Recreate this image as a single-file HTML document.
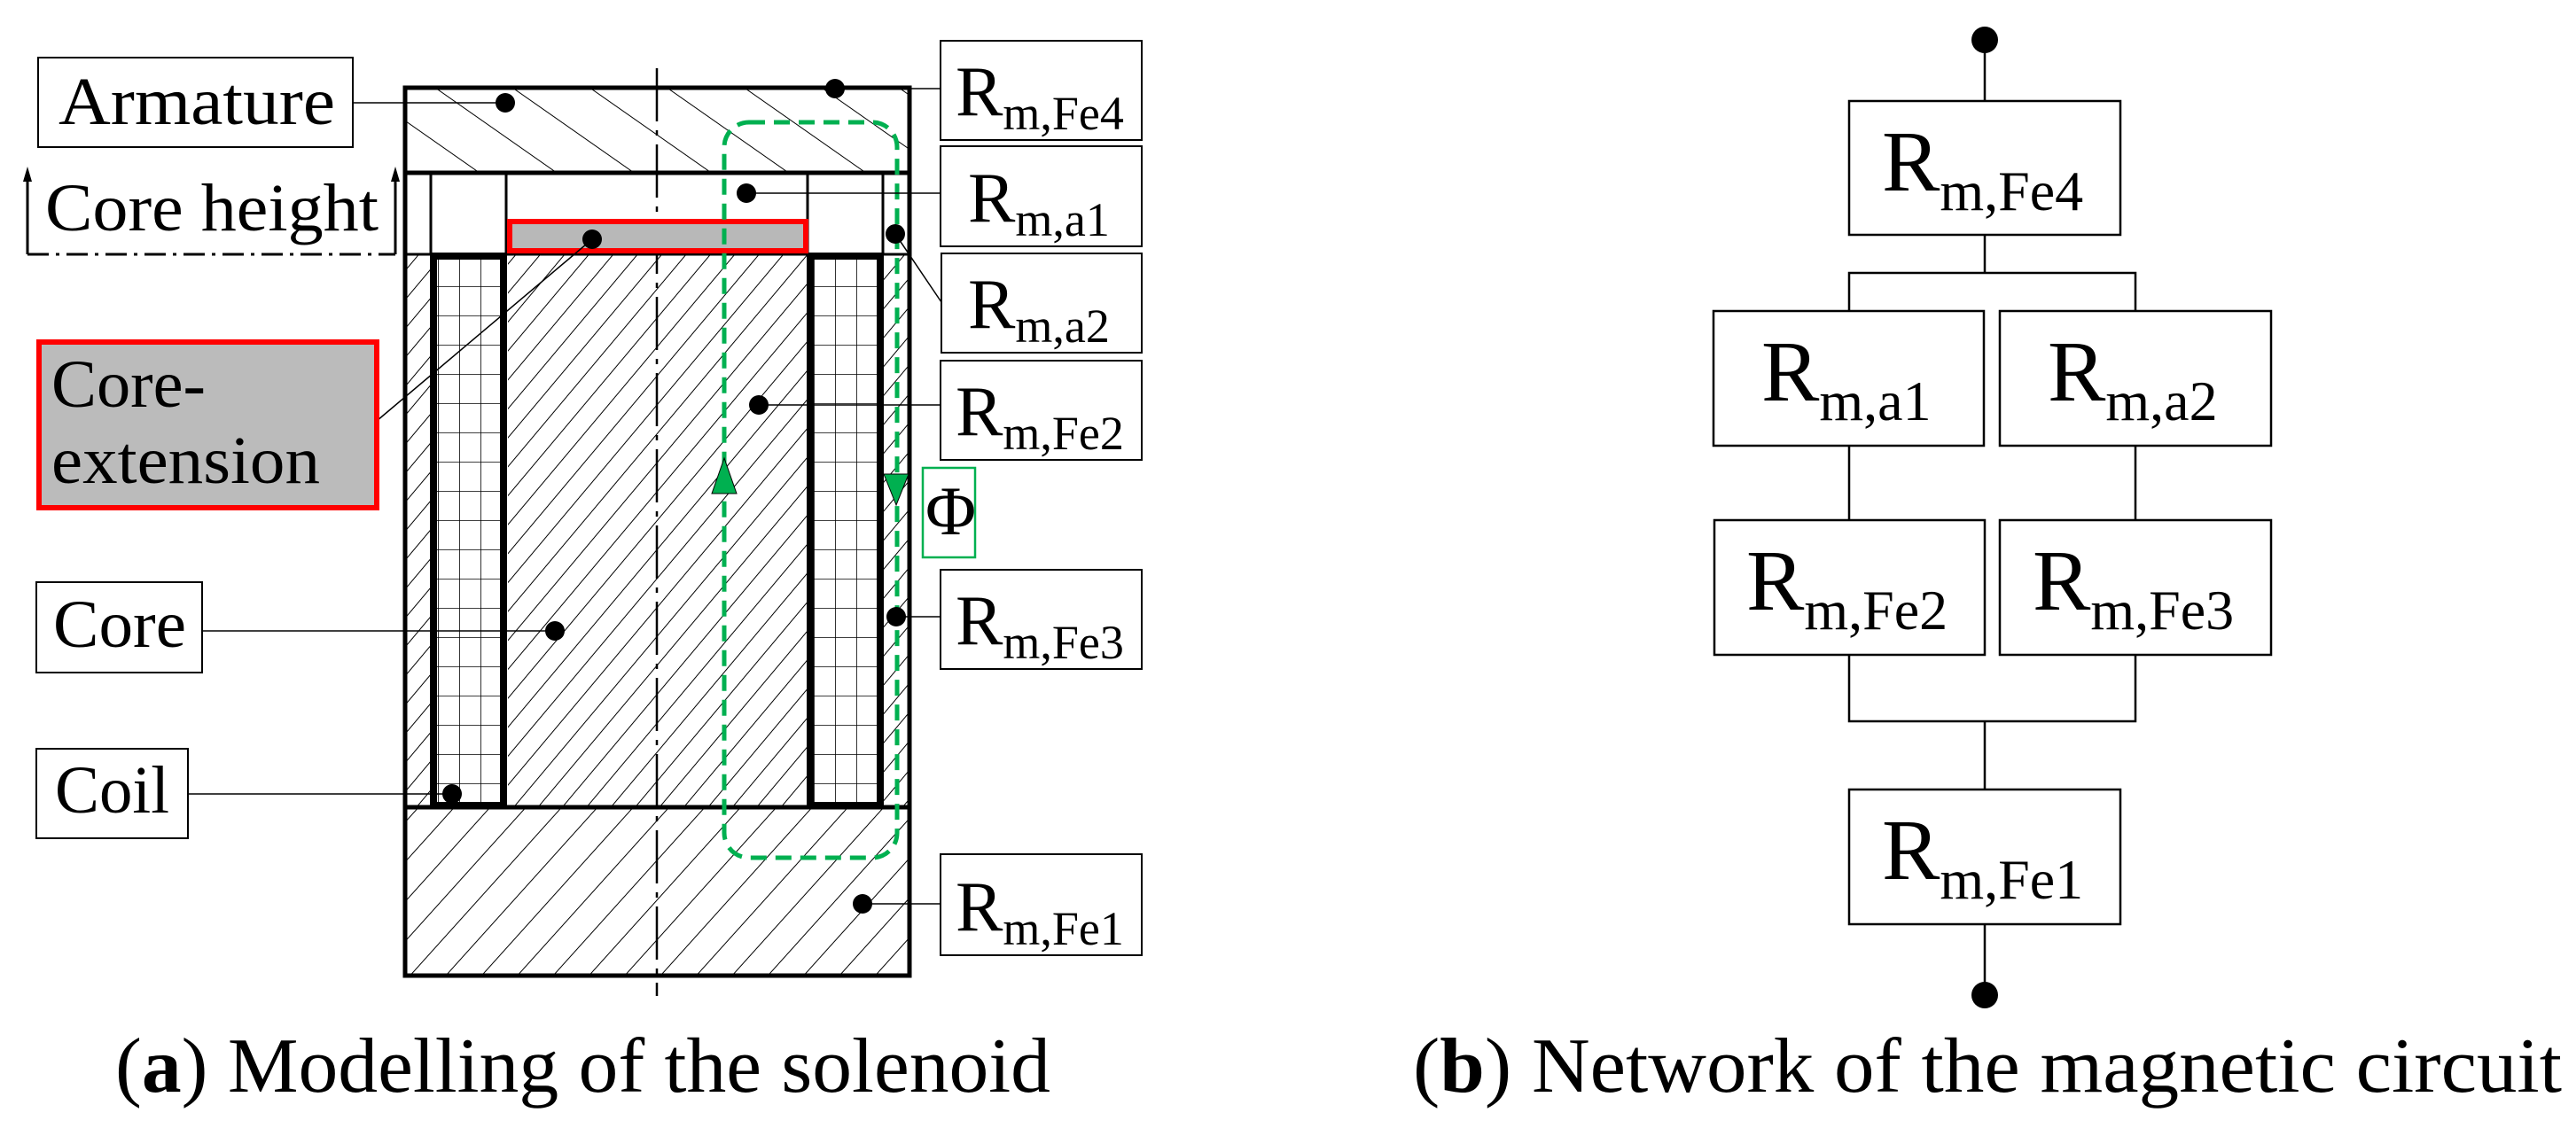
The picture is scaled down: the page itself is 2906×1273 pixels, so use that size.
<!DOCTYPE html>
<html><head><meta charset="utf-8"><style>
html,body{margin:0;padding:0;background:#fff;}
svg{display:block;}
text{font-family:"Liberation Serif",serif;fill:#000;}
</style></head><body>
<svg width="2906" height="1273" viewBox="0 0 2906 1273" xmlns="http://www.w3.org/2000/svg" font-family="Liberation Serif, serif">
<defs>
<pattern id="hArm" width="50" height="50" patternUnits="userSpaceOnUse" patternTransform="rotate(-55)">
<line x1="0" y1="0" x2="0" y2="50" stroke="#000" stroke-width="2"/></pattern>
<pattern id="hCore" width="21" height="21" patternUnits="userSpaceOnUse" patternTransform="rotate(40)">
<line x1="0" y1="0" x2="0" y2="21" stroke="#000" stroke-width="2"/></pattern>
<pattern id="hBot" width="30" height="30" patternUnits="userSpaceOnUse" patternTransform="rotate(42)">
<line x1="0" y1="0" x2="0" y2="30" stroke="#000" stroke-width="2"/></pattern>
<pattern id="grid" width="24" height="33" patternUnits="userSpaceOnUse" x="494" y="290">
<path d="M0 0V33M0 0H24" stroke="#000" stroke-width="1.6" fill="none"/></pattern>
<pattern id="grid2" width="24" height="33" patternUnits="userSpaceOnUse" x="918" y="290">
<path d="M0 0V33M0 0H24" stroke="#000" stroke-width="1.6" fill="none"/></pattern>
</defs>

<rect x="457" y="99" width="569" height="96" fill="url(#hArm)"/>
<rect x="573" y="287" width="338" height="624" fill="url(#hCore)"/>
<rect x="457" y="287" width="29" height="624" fill="url(#hCore)"/>
<rect x="996" y="287" width="30" height="624" fill="url(#hCore)"/>
<rect x="457" y="911" width="569" height="190" fill="url(#hBot)"/>
<rect x="492" y="290" width="72" height="618" fill="#fff"/>
<rect x="492" y="290" width="72" height="618" fill="url(#grid)"/>
<rect x="917" y="290" width="73" height="618" fill="#fff"/>
<rect x="917" y="290" width="73" height="618" fill="url(#grid2)"/>
<g stroke="#000" fill="none">
<rect x="457" y="99" width="569" height="1002" stroke-width="5"/>
<line x1="457" y1="195" x2="1026" y2="195" stroke-width="5"/>
<line x1="457" y1="287" x2="1026" y2="287" stroke-width="3"/>
<line x1="457" y1="911" x2="1026" y2="911" stroke-width="5"/>
<line x1="486" y1="195" x2="486" y2="287" stroke-width="3"/>
<line x1="571" y1="195" x2="571" y2="287" stroke-width="3"/>
<line x1="911" y1="195" x2="911" y2="287" stroke-width="3"/>
<line x1="996" y1="195" x2="996" y2="287" stroke-width="3"/>
<rect x="489" y="289" width="79" height="620" stroke-width="8"/>
<rect x="914" y="289" width="79" height="620" stroke-width="8"/>
<line x1="741" y1="77" x2="741" y2="1124" stroke-width="2.5" stroke-dasharray="60,10,6,10"/>
</g>
<rect x="575" y="250" width="334" height="33" fill="#b8b8b8" stroke="#ff0000" stroke-width="6"/>
<rect x="817" y="138" width="195" height="830" rx="28" fill="none" stroke="#00b050" stroke-width="5" stroke-dasharray="18,10"/>
<polygon points="817,517 803,557 831,557" fill="#00b050" stroke="#000" stroke-width="1"/>
<polygon points="1011,570 997,535 1025,535" fill="#00b050" stroke="#000" stroke-width="1"/>
<rect x="1041" y="528" width="59" height="101" fill="none" stroke="#00b050" stroke-width="2.5"/>
<text x="1044" y="603" font-size="78">Φ</text>

<g stroke="#000" stroke-width="1.5">
<line x1="398" y1="116" x2="570" y2="116"/>
<line x1="942" y1="100" x2="1061" y2="100"/>
<line x1="842" y1="218" x2="1061" y2="218"/>
<line x1="1010" y1="264" x2="1062" y2="341"/>
<line x1="668" y1="270" x2="425" y2="475"/>
<line x1="856" y1="457" x2="1061" y2="457"/>
<line x1="1011" y1="696" x2="1061" y2="696"/>
<line x1="228" y1="712" x2="626" y2="712"/>
<line x1="212" y1="896" x2="510" y2="896"/>
<line x1="973" y1="1020" x2="1061" y2="1020"/>
</g>
<g fill="#000">
<circle cx="570" cy="116" r="11"/><circle cx="942" cy="100" r="11"/>
<circle cx="842" cy="218" r="11"/><circle cx="1010" cy="264" r="11"/>
<circle cx="668" cy="270" r="11"/><circle cx="856" cy="457" r="11"/>
<circle cx="1011" cy="696" r="11"/><circle cx="626" cy="712" r="11"/>
<circle cx="510" cy="896" r="11"/><circle cx="973" cy="1020" r="11"/>
</g>

<g fill="#fff" stroke="#000" stroke-width="2">
<rect x="43" y="65" width="355" height="101"/>
<rect x="41" y="657" width="187" height="102"/>
<rect x="41" y="845" width="171" height="101"/>
</g>
<rect x="44" y="386" width="381" height="187" fill="#bbb" stroke="#ff0000" stroke-width="6"/>
<text x="66" y="140" font-size="76" textLength="312" lengthAdjust="spacingAndGlyphs">Armature</text>
<text x="51" y="260" font-size="76" textLength="376" lengthAdjust="spacingAndGlyphs">Core height</text>
<text x="58" y="459" font-size="76" textLength="174" lengthAdjust="spacingAndGlyphs">Core-</text>
<text x="58" y="545" font-size="76" textLength="303" lengthAdjust="spacingAndGlyphs">extension</text>
<text x="60" y="730" font-size="76" textLength="150" lengthAdjust="spacingAndGlyphs">Core</text>
<text x="62" y="917" font-size="76" textLength="129" lengthAdjust="spacingAndGlyphs">Coil</text>
<g stroke="#000" stroke-width="3" fill="none">
<line x1="31" y1="198" x2="31" y2="287"/>
<line x1="446" y1="198" x2="446" y2="287"/>
<line x1="31" y1="287" x2="446" y2="287" stroke-dasharray="24,8,4,8"/>
</g>
<polygon points="31,188 26,205 36,205" fill="#000"/>
<polygon points="446,188 441,205 451,205" fill="#000"/>

<g fill="#fff" stroke="#000" stroke-width="2">
<rect x="1061" y="46" width="227" height="112"/>
<rect x="1061" y="165" width="227" height="113"/>
<rect x="1062" y="286" width="226" height="112"/>
<rect x="1061" y="407" width="227" height="112"/>
<rect x="1061" y="643" width="227" height="112"/>
<rect x="1061" y="964" width="227" height="114"/>
</g>
<g font-size="80">
<text x="1078" y="130">R<tspan font-size="54" dy="16">m,Fe4</tspan></text>
<text x="1092" y="250">R<tspan font-size="54" dy="16">m,a1</tspan></text>
<text x="1092" y="370">R<tspan font-size="54" dy="16">m,a2</tspan></text>
<text x="1078" y="491">R<tspan font-size="54" dy="16">m,Fe2</tspan></text>
<text x="1078" y="727">R<tspan font-size="54" dy="16">m,Fe3</tspan></text>
<text x="1078" y="1050">R<tspan font-size="54" dy="16">m,Fe1</tspan></text>
</g>

<g stroke="#000" stroke-width="2.5" fill="none">
<line x1="2239" y1="45" x2="2239" y2="114"/>
<line x1="2239" y1="265" x2="2239" y2="308"/>
<polyline points="2086,351 2086,308 2409,308 2409,351"/>
<line x1="2086" y1="503" x2="2086" y2="587"/>
<line x1="2409" y1="503" x2="2409" y2="587"/>
<polyline points="2086,739 2086,814 2409,814 2409,739"/>
<line x1="2239" y1="814" x2="2239" y2="891"/>
<line x1="2239" y1="1043" x2="2239" y2="1123"/>
</g>
<circle cx="2239" cy="45" r="15" fill="#000"/>
<circle cx="2239" cy="1123" r="15" fill="#000"/>
<g fill="#fff" stroke="#000" stroke-width="2.5">
<rect x="2086" y="114" width="306" height="151"/>
<rect x="1933" y="351" width="305" height="152"/>
<rect x="2256" y="351" width="306" height="152"/>
<rect x="1934" y="587" width="305" height="152"/>
<rect x="2256" y="587" width="306" height="152"/>
<rect x="2086" y="891" width="306" height="152"/>
</g>
<g font-size="98">
<text x="2123" y="215">R<tspan font-size="64" dy="22">m,Fe4</tspan></text>
<text x="1987" y="452">R<tspan font-size="64" dy="22">m,a1</tspan></text>
<text x="2310" y="452">R<tspan font-size="64" dy="22">m,a2</tspan></text>
<text x="1970" y="688">R<tspan font-size="64" dy="22">m,Fe2</tspan></text>
<text x="2293" y="688">R<tspan font-size="64" dy="22">m,Fe3</tspan></text>
<text x="2123" y="992">R<tspan font-size="64" dy="22">m,Fe1</tspan></text>
</g>

<text x="130" y="1232" font-size="88" textLength="1055" lengthAdjust="spacingAndGlyphs">(<tspan font-weight="bold">a</tspan>) Modelling of the solenoid</text>
<text x="1594" y="1232" font-size="88" textLength="1296" lengthAdjust="spacingAndGlyphs">(<tspan font-weight="bold">b</tspan>) Network of the magnetic circuit</text>
</svg>
</body></html>
